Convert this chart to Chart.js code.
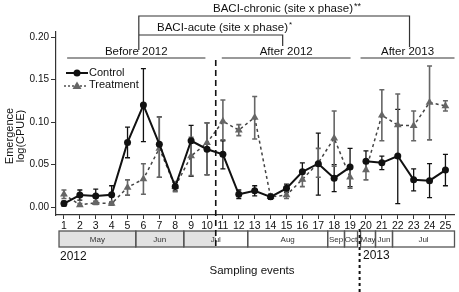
<!DOCTYPE html>
<html lang="en">
<head>
<meta charset="UTF-8">
<title>Emergence log(CPUE)</title>
<script src="https://cdn.jsdelivr.net/npm/chart.js"></script>
<style>
  body { margin: 0; background: white; }
  #wrap { width: 459px; height: 292px; }
</style>
</head>
<body>
<div id="wrap"><canvas id="chart" width="459" height="292"></canvas></div>
<script>
// sampling events on the x axis
const events = [1,2,3,4,5,6,7,8,9,10,11,12,13,14,15,16,17,18,19,20,21,22,23,24,25];
const yTicks = [0, 0.05, 0.10, 0.15, 0.20];

// Control: mean and error bar limits
const controlMean = [0.004,0.014,0.013,0.0145,0.076,0.120,0.074,0.024,0.078,0.068,0.062,0.015,0.019,0.012,0.022,0.0415,0.051,0.034,0.047,0.054,0.052,0.060,0.032,0.031,0.0435];
const controlLow  = [0.001,0.008,0.006,0.005,0.058,0.077,0.035,0.019,0.036,0.038,0.045,0.010,0.013,0.009,0.017,0.031,0.014,0.018,0.024,0.042,0.044,0.004,0.019,0.011,0.025];
const controlHigh = [0.007,0.020,0.021,0.025,0.094,0.163,0.106,0.029,0.096,0.099,0.078,0.020,0.025,0.015,0.027,0.052,0.087,0.050,0.069,0.066,0.060,0.115,0.045,0.051,0.062];

// Treatment: mean and error bar limits
const treatMean = [0.015,0.0025,0.005,0.004,0.023,0.033,0.069,0.024,0.060,0.0755,0.101,0.0905,0.1055,0.012,0.014,0.0325,0.052,0.081,0.035,0.0435,0.108,0.0965,0.0957,0.123,0.119];
const treatLow  = [0.010,0.001,0.003,0.002,0.014,0.015,0.035,0.018,0.037,0.038,0.079,0.084,0.080,0.010,0.010,0.024,0.035,0.048,0.022,0.032,0.078,0.060,0.078,0.079,0.113];
const treatHigh = [0.020,0.004,0.007,0.006,0.032,0.051,0.106,0.030,0.082,0.099,0.126,0.097,0.130,0.014,0.018,0.041,0.069,0.113,0.048,0.055,0.138,0.133,0.113,0.166,0.125];

// month boxes under the axis (x in event units)
const months = ['May','Jun','Jul','Aug','Sep','Oct','May','Jun','Jul'];
const monthStart = [0.69,5.52,8.54,12.56,17.59,18.65,19.66,20.6,21.67];
const monthEnd   = [5.52,8.54,12.56,17.59,18.65,19.47,20.6,21.67,25.57];

// phase labels and BACI brackets
const phases = ['Before 2012','After 2012','After 2013'];
const phaseStart = [1.2,10.93,19.66];
const phaseEnd = [9.9,19.03,25.57];
const firstImpact = 10.55;
const yearBreak = 19.6;

const FONT = '"Liberation Sans", Arial, sans-serif';
const BLACK = '#111';
const GRAY = '#666';

function pts(vals) { return events.map((e, i) => ({ x: e, y: vals[i] })); }

const overlay = {
  id: 'overlay',
  beforeDatasetsDraw(chart) {
    const ctx = chart.ctx, xs = chart.scales.x, ys = chart.scales.y;
    const bars = [[controlLow, controlHigh, BLACK, 1.3], [treatLow, treatHigh, GRAY, 1.6]];
    ctx.save();
    bars.forEach(([lo, hi, col, w]) => {
      ctx.strokeStyle = col;
      ctx.lineWidth = w;
      events.forEach((e, i) => {
        const x = xs.getPixelForValue(e);
        const y1 = ys.getPixelForValue(lo[i]), y2 = ys.getPixelForValue(hi[i]);
        ctx.beginPath();
        ctx.moveTo(x, y1); ctx.lineTo(x, y2);
        ctx.moveTo(x - 2.5, y1); ctx.lineTo(x + 2.5, y1);
        ctx.moveTo(x - 2.5, y2); ctx.lineTo(x + 2.5, y2);
        ctx.stroke();
      });
    });
    ctx.restore();
  },
  afterDraw(chart) {
    const ctx = chart.ctx, xs = chart.scales.x;
    const px = v => xs.getPixelForValue(v);
    ctx.save();

    // month boxes
    const bTop = 231, bBot = 247;
    ctx.fillStyle = '#e2e2e2';
    ctx.fillRect(px(monthStart[0]), bTop, px(firstImpact) - px(monthStart[0]), bBot - bTop);
    ctx.strokeStyle = '#555';
    ctx.lineWidth = 1.3;
    ctx.font = '8px ' + FONT;
    ctx.textAlign = 'center';
    ctx.textBaseline = 'middle';
    months.forEach((m, i) => {
      const a = px(monthStart[i]), b = px(monthEnd[i]);
      ctx.strokeRect(a, bTop, b - a, bBot - bTop);
      ctx.fillStyle = '#333';
      ctx.fillText(m, (a + b) / 2, (bTop + bBot) / 2 + 0.5);
    });

    // vertical dashed line (first impact) and dotted line (year break)
    ctx.strokeStyle = BLACK;
    ctx.lineWidth = 1.6;
    ctx.setLineDash([6, 4]);
    ctx.beginPath();
    ctx.moveTo(px(firstImpact), 60); ctx.lineTo(px(firstImpact), bBot);
    ctx.stroke();
    ctx.lineWidth = 2;
    ctx.setLineDash([3, 3]);
    ctx.beginPath();
    ctx.moveTo(px(yearBreak), 229); ctx.lineTo(px(yearBreak), 292);
    ctx.stroke();
    ctx.setLineDash([]);

    // years and x title
    ctx.fillStyle = BLACK;
    ctx.font = '12px ' + FONT;
    ctx.textAlign = 'left';
    ctx.textBaseline = 'alphabetic';
    ctx.fillText('2012', 60, 260);
    ctx.fillText('2013', 363, 259);
    ctx.textAlign = 'center';
    ctx.font = '11.5px ' + FONT;
    ctx.fillText('Sampling events', 252, 274);

    // y title
    ctx.save();
    ctx.font = '11px ' + FONT;
    ctx.translate(13, 136);
    ctx.rotate(-Math.PI / 2);
    ctx.fillText('Emergence', 0, 0);
    ctx.fillText('log(CPUE)', 0, 11);
    ctx.restore();

    // phase lines
    ctx.strokeStyle = '#777';
    ctx.lineWidth = 1.6;
    ctx.font = '11.5px ' + FONT;
    phases.forEach((p, i) => {
      const a = px(phaseStart[i]), b = px(phaseEnd[i]);
      ctx.beginPath(); ctx.moveTo(a, 58); ctx.lineTo(b, 58); ctx.stroke();
      ctx.fillStyle = BLACK;
      ctx.fillText(p, (a + b) / 2, 55);
    });

    // BACI brackets
    const left = px(5.71), acuteR = px(14.76), chronR = px(22.74);
    ctx.strokeStyle = '#333';
    ctx.lineWidth = 1.2;
    ctx.beginPath();
    ctx.moveTo(left, 50); ctx.lineTo(left, 16); ctx.lineTo(chronR, 16); ctx.lineTo(chronR, 47);
    ctx.moveTo(left, 35); ctx.lineTo(acuteR, 35); ctx.lineTo(acuteR, 46);
    ctx.stroke();
    ctx.fillStyle = BLACK;
    ctx.textAlign = 'left';
    ctx.fillText('BACI-chronic (site x phase)', 213, 12);
    let w = ctx.measureText('BACI-chronic (site x phase)').width;
    ctx.font = '9px ' + FONT;
    ctx.fillText('**', 213 + w + 1, 9);
    ctx.font = '11.5px ' + FONT;
    ctx.fillText('BACI-acute (site x phase)', 157, 31);
    w = ctx.measureText('BACI-acute (site x phase)').width;
    ctx.font = '8px ' + FONT;
    ctx.fillText('*', 157 + w + 1, 27);

    // legend
    ctx.font = '11px ' + FONT;
    ctx.textBaseline = 'middle';
    ctx.strokeStyle = BLACK;
    ctx.lineWidth = 2;
    ctx.beginPath(); ctx.moveTo(66, 73); ctx.lineTo(88, 73); ctx.stroke();
    ctx.fillStyle = BLACK;
    ctx.beginPath(); ctx.arc(77, 73, 3.5, 0, Math.PI * 2); ctx.fill();
    ctx.fillText('Control', 89, 73);
    ctx.strokeStyle = '#444';
    ctx.lineWidth = 1.4;
    ctx.setLineDash([2, 2]);
    ctx.beginPath(); ctx.moveTo(64, 86); ctx.lineTo(88, 86); ctx.stroke();
    ctx.setLineDash([]);
    ctx.fillStyle = GRAY;
    ctx.beginPath(); ctx.moveTo(77, 81.5); ctx.lineTo(81.5, 89); ctx.lineTo(72.5, 89); ctx.closePath(); ctx.fill();
    ctx.fillStyle = BLACK;
    ctx.fillText('Treatment', 89, 85);

    ctx.restore();
  }
};

// no line joins event 19 and event 20 (the year break)
const breakSeg = c => (c.p0.parsed.x === 19 ? 'rgba(0,0,0,0)' : undefined);

new Chart(document.getElementById('chart'), {
  type: 'line',
  data: {
    datasets: [
      {
        label: 'Control',
        data: pts(controlMean),
        borderColor: BLACK,
        backgroundColor: BLACK,
        borderWidth: 2,
        pointStyle: 'circle',
        pointRadius: 3.5,
        pointBorderWidth: 0,
        tension: 0,
        segment: { borderColor: breakSeg }
      },
      {
        label: 'Treatment',
        data: pts(treatMean),
        borderColor: '#444',
        backgroundColor: GRAY,
        borderWidth: 1.5,
        borderDash: [3, 3],
        pointStyle: 'triangle',
        pointRadius: 4.5,
        pointBorderWidth: 0,
        tension: 0,
        segment: { borderColor: breakSeg }
      }
    ]
  },
  options: {
    responsive: false,
    animation: false,
    events: [],
    layout: { padding: { top: 32, right: 4, left: 0, bottom: 0 } },
    plugins: { legend: { display: false }, tooltip: { enabled: false } },
    scales: {
      x: {
        type: 'linear',
        min: 0.5,
        max: 25.57,
        afterBuildTicks: s => { s.ticks = events.map(v => ({ value: v })); },
        afterFit: s => { s.height = 77; },
        grid: { drawOnChartArea: false, drawTicks: true, tickLength: 4, color: '#333' },
        border: { display: true, color: '#333', width: 1.2 },
        ticks: { color: BLACK, font: { family: FONT, size: 10.5 }, padding: 1, maxRotation: 0, autoSkip: false }
      },
      y: {
        min: -0.0094,
        max: 0.206,
        afterBuildTicks: s => { s.ticks = yTicks.map(v => ({ value: v })); },
        afterFit: s => { s.width = 56; },
        grid: { drawOnChartArea: false, drawTicks: true, tickLength: 5, color: '#333' },
        border: { display: true, color: '#333', width: 1.2 },
        ticks: { color: BLACK, font: { family: FONT, size: 10 }, padding: 2, callback: v => v.toFixed(2) }
      }
    }
  },
  plugins: [overlay]
});
</script>
</body>
</html>
